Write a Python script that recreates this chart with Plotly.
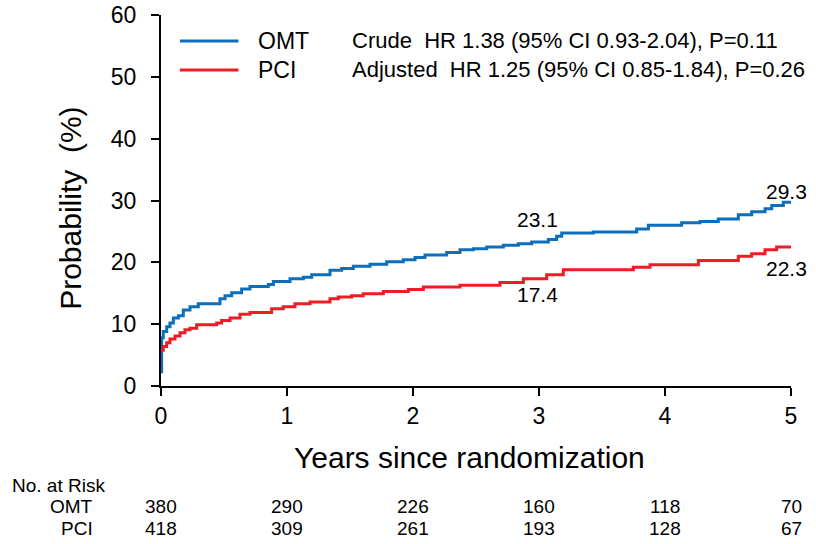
import plotly.graph_objects as go

# Kaplan-Meier style cumulative probability (%)
omt_t = [0, 0.005, 0.018, 0.045, 0.071, 0.098, 0.138, 0.177, 0.23, 0.296, 0.468, 0.508,
         0.561, 0.64, 0.706, 0.852, 0.892, 1.024, 1.13, 1.196, 1.341, 1.434, 1.526,
         1.659, 1.791, 1.923, 2.016, 2.095, 2.267, 2.373, 2.479, 2.585, 2.717, 2.836,
         2.942, 3.074, 3.14, 3.18, 3.431, 3.775, 3.868, 4.132, 4.278, 4.423, 4.582,
         4.688, 4.794, 4.847, 4.939, 5.0]
omt_y = [2.3, 7.8, 8.8, 9.6, 10.2, 11.0, 11.35, 12.3, 12.8, 13.3, 14.1, 14.6,
         15.1, 15.7, 16.1, 16.4, 16.9, 17.35, 17.6, 18.0, 18.7, 19.0, 19.35,
         19.7, 20.1, 20.4, 20.8, 21.2, 21.6, 22.05, 22.2, 22.5, 22.75, 23.0,
         23.3, 23.7, 24.2, 24.75, 24.9, 25.4, 26.0, 26.4, 26.6, 27.0, 27.7,
         28.2, 28.65, 29.2, 29.7, 29.7]

pci_t = [0, 0.018, 0.045, 0.071, 0.111, 0.151, 0.19, 0.23, 0.283, 0.442, 0.481, 0.548,
         0.627, 0.706, 0.878, 0.97, 1.063, 1.183, 1.341, 1.407, 1.513, 1.605, 1.765,
         1.963, 2.082, 2.373, 2.69, 2.876, 3.061, 3.193, 3.749, 3.881, 4.265, 4.582,
         4.688, 4.794, 4.886, 5.0]
pci_y = [5.8, 6.4, 7.0, 7.6, 8.1, 8.6, 9.1, 9.35, 9.9, 10.2, 10.6, 11.0,
         11.6, 11.9, 12.5, 12.8, 13.3, 13.6, 14.1, 14.4, 14.6, 14.9, 15.3,
         15.6, 16.0, 16.3, 16.75, 17.35, 18.0, 18.8, 19.2, 19.6, 20.3, 21.0,
         21.4, 22.05, 22.5, 22.5]

groups = ["OMT", "PCI"]
colors = ["#0B6FBD", "#EE1C25"]
hr_texts = ["Crude  HR 1.38 (95% CI 0.93-2.04), P=0.11",
            "Adjusted  HR 1.25 (95% CI 0.85-1.84), P=0.26"]

risk_years = [0, 1, 2, 3, 4, 5]
omt_risk = [380, 290, 226, 160, 118, 70]
pci_risk = [418, 309, 261, 193, 128, 67]

point_labels = [(2.988, 26.9, "23.1"), (2.988, 14.75, "17.4"),
                (4.966, 31.5, "29.3"), (4.966, 19.0, "22.3")]

FONT = "Liberation Sans, Arial, sans-serif"

fig = go.Figure()
fig.add_trace(go.Scatter(x=omt_t, y=omt_y, mode="lines", line_shape="hv",
                         line=dict(color=colors[0], width=3), name=groups[0],
                         showlegend=False, cliponaxis=False))
fig.add_trace(go.Scatter(x=pci_t, y=pci_y, mode="lines", line_shape="hv",
                         line=dict(color=colors[1], width=3), name=groups[1],
                         showlegend=False, cliponaxis=False))

annotations = []
for (x, y, t) in point_labels:
    annotations.append(dict(x=x, y=y, xref="x", yref="y", text=t, showarrow=False,
                            xanchor="center", yanchor="middle",
                            font=dict(size=21, color="black", family=FONT)))

# legend (manual)
shapes = []
leg_y = [0.930, 0.852]
for i, g in enumerate(groups):
    shapes.append(dict(type="line", xref="paper", yref="paper",
                       x0=0.030, x1=0.123, y0=leg_y[i], y1=leg_y[i],
                       line=dict(color=colors[i], width=3)))
    annotations.append(dict(x=0.150, y=leg_y[i], xref="paper", yref="paper", text=g,
                            showarrow=False, xanchor="left", yanchor="middle",
                            font=dict(size=23, color="black", family=FONT)))
hr_y = [0.930, 0.852]
for i, t in enumerate(hr_texts):
    annotations.append(dict(x=0.300, y=hr_y[i], xref="paper", yref="paper", text=t,
                            showarrow=False, xanchor="left", yanchor="middle",
                            font=dict(size=22, color="black", family=FONT)))

# axis titles
annotations.append(dict(x=-0.143, y=0.48, xref="paper", yref="paper",
                        text="Probability  (%)", textangle=-90, showarrow=False,
                        xanchor="center", yanchor="middle",
                        font=dict(size=30, color="black", family=FONT)))
annotations.append(dict(x=0.490, y=-0.193, xref="paper", yref="paper",
                        text="Years since randomization", showarrow=False,
                        xanchor="center", yanchor="middle",
                        font=dict(size=30, color="black", family=FONT)))

# risk table
annotations.append(dict(x=-0.240, y=-0.267, xref="paper", yref="paper",
                        text="No. at Risk", showarrow=False,
                        xanchor="left", yanchor="middle",
                        font=dict(size=19, color="black", family=FONT)))
row_y = [-0.325, -0.384]
for i, (g, vals) in enumerate(zip(groups, [omt_risk, pci_risk])):
    annotations.append(dict(x=-0.105, y=row_y[i], xref="paper", yref="paper",
                            text=g, showarrow=False, xanchor="right", yanchor="middle",
                            font=dict(size=19, color="black", family=FONT)))
    for yr, v in zip(risk_years, vals):
        annotations.append(dict(x=yr, y=row_y[i], xref="x", yref="paper",
                                text=str(v), showarrow=False,
                                xanchor="center", yanchor="middle",
                                font=dict(size=19, color="black", family=FONT)))

fig.update_layout(
    width=816, height=544,
    margin=dict(l=161, r=25, t=15, b=158),
    plot_bgcolor="white", paper_bgcolor="white",
    shapes=shapes, annotations=annotations,
    font=dict(family=FONT, color="black"),
)
fig.update_xaxes(range=[0, 5], tickvals=[0, 1, 2, 3, 4, 5], showgrid=False, zeroline=False,
                 showline=True, linecolor="black", linewidth=2, ticks="outside",
                 ticklen=8, tickwidth=2, tickcolor="black", automargin=False,
                 ticklabelstandoff=0,
                 tickfont=dict(size=23, family=FONT, color="black"))
fig.update_yaxes(range=[0, 60], tickvals=[0, 10, 20, 30, 40, 50, 60], showgrid=False,
                 zeroline=False, showline=True, linecolor="black", linewidth=2,
                 ticks="outside", ticklen=8, tickwidth=2, tickcolor="black",
                 automargin=False, ticklabelstandoff=10,
                 tickfont=dict(size=23, family=FONT, color="black"))

fig.write_html("out.html", config={"displayModeBar": False},
               post_script="document.body.style.margin='0';")
